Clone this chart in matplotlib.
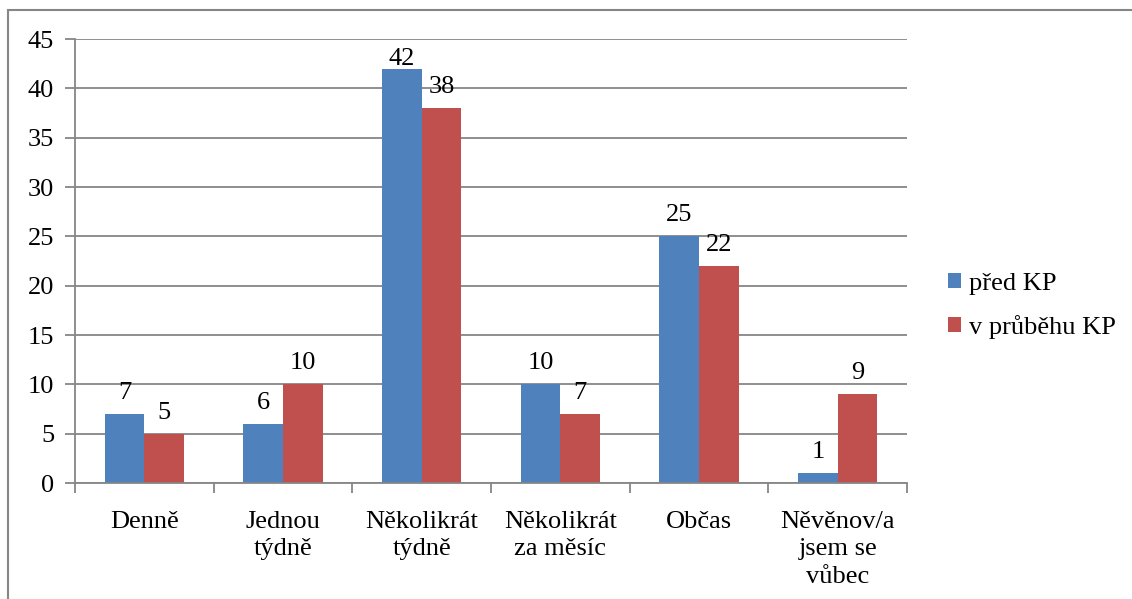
import matplotlib.pyplot as plt
import matplotlib.patches as mpatches
import numpy as np

categories = ["Denně", "Jednou\ntýdně", "Několikrát\ntýdně", "Několikrát\nza měsíc", "Občas", "Něvěnov/a\njsem se\nvůbec"]
pred_kp = [7, 6, 42, 10, 25, 1]
v_prubehu_kp = [5, 10, 38, 7, 22, 9]
series_names = ["před KP", "v průběhu KP"]
colors = ["#4F81BD", "#C0504D"]

plt.rcParams['font.family'] = ['Liberation Serif', 'DejaVu Serif']
W, H = 1132, 599
fig = plt.figure(figsize=(W/100, H/100), dpi=100)
ax = fig.add_axes([75/W, 1-483/H, (907-75)/W, (483-39)/H])

# outer chart border
fig.patches.append(mpatches.Rectangle((8/W, -0.1), 1.2, 1 - 10/H + 0.1, transform=fig.transFigure,
                                      fill=False, edgecolor="#868686", linewidth=1.5))

x = np.arange(len(categories))
bw = 0.285
fs = 19
ymax = 45
b1 = ax.bar(x - bw/2, pred_kp, bw, color=colors[0], label=series_names[0])
b2 = ax.bar(x + bw/2, v_prubehu_kp, bw, color=colors[1], label=series_names[1])
for bars, vals in ((b1, pred_kp), (b2, v_prubehu_kp)):
    for r, v in zip(bars, vals):
        # labels are kept inside the plot area (as Excel does)
        ax.text(r.get_x() + r.get_width()/2, min(v + 1.0, ymax - 3.15), str(v),
                ha="center", va="bottom", fontsize=fs)

ax.set_xlim(-0.5, len(categories) - 0.5)
ax.set_ylim(0, ymax)
ax.set_yticks(range(0, 46, 5))
ax.yaxis.grid(True, color="#868686", linewidth=1.3)
ax.set_axisbelow(True)
for s in ("top", "right"):
    ax.spines[s].set_visible(False)
for s in ("left", "bottom"):
    ax.spines[s].set_color("#868686")
    ax.spines[s].set_linewidth(1.3)
ax.set_xticks(np.arange(-0.5, len(categories)), minor=False)
ax.set_xticklabels([])
ax.set_xticks(x, minor=True)
ax.set_xticklabels(categories, minor=True, fontsize=fs, va="top", linespacing=1.32)
ax.tick_params(axis="x", which="major", length=7, color="#868686", width=1.3, direction="out")
ax.tick_params(axis="x", which="minor", length=0, pad=20)
ax.tick_params(axis="y", length=7, color="#868686", width=1.3, labelsize=fs, pad=8)

ax.legend(loc="center left", bbox_to_anchor=(924/W, 1-306/H), bbox_transform=fig.transFigure,
          frameon=False, fontsize=fs, handlelength=0.5, handleheight=0.5, handletextpad=0.3,
          labelspacing=0.75)

fig.savefig("out.png", dpi=100)
